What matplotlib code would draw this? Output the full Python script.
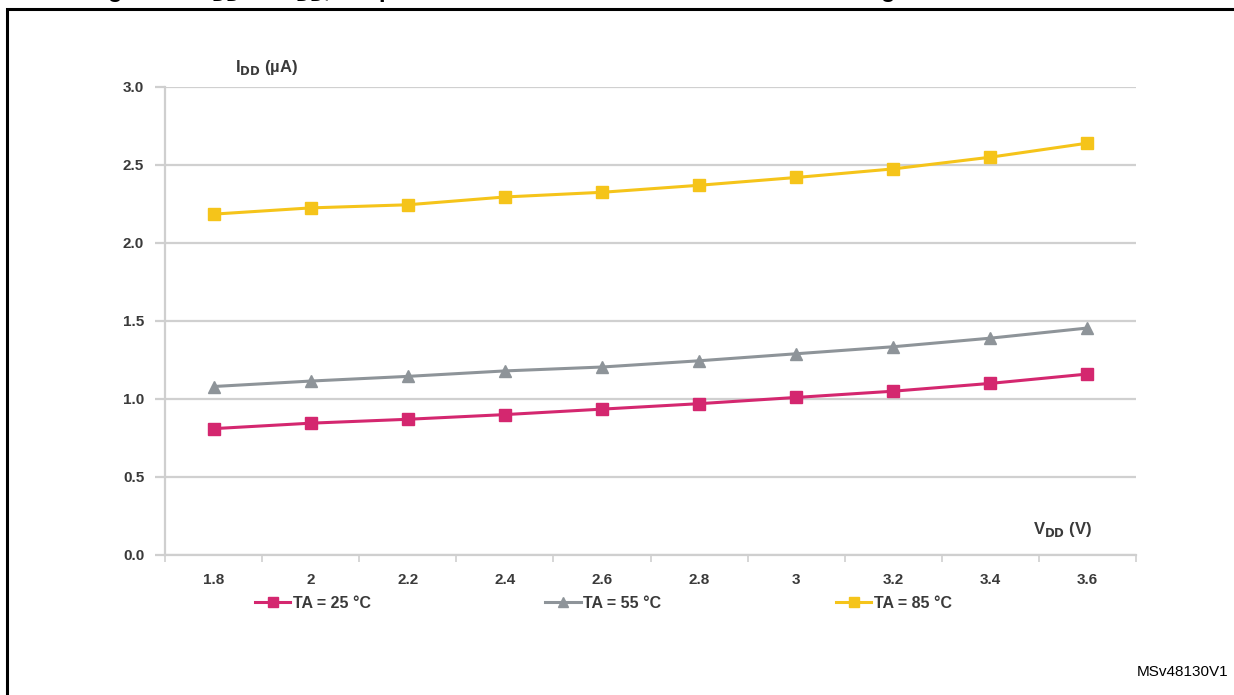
import matplotlib
matplotlib.use("Agg")
import matplotlib.pyplot as plt
from matplotlib.patches import Rectangle

categories = ["1.8", "2", "2.2", "2.4", "2.6", "2.8", "3", "3.2", "3.4", "3.6"]
ta25 = [0.81, 0.845, 0.87, 0.90, 0.935, 0.97, 1.01, 1.05, 1.10, 1.16]
ta55 = [1.08, 1.115, 1.145, 1.18, 1.205, 1.245, 1.29, 1.335, 1.39, 1.455]
ta85 = [2.185, 2.225, 2.245, 2.295, 2.325, 2.37, 2.42, 2.475, 2.55, 2.64]
series_labels = ["TA = 25 °C", "TA = 55 °C", "TA = 85 °C"]
yticks = [0.0, 0.5, 1.0, 1.5, 2.0, 2.5, 3.0]

plt.rcParams['font.family'] = ['Liberation Sans', 'DejaVu Sans']

W, H = 1234, 695
fig = plt.figure(figsize=(W / 100, H / 100), dpi=100)
fig.patch.set_facecolor('white')

# outer frame
fig.add_artist(Rectangle((7 / W, -0.05), 1.2, 1 - 9 / H + 0.05,
                         transform=fig.transFigure, fill=False,
                         edgecolor='black', linewidth=2.2, clip_on=False))

# title, mostly cut off at the very top of the picture
title_prefix = "Figure 26. I"
title_text = ("Figure 26. I$_{\\mathbf{DD}}$ vs V$_{\\mathbf{DD}}$, "
              "temperature in Shutdown mode with RTC running")
renderer = fig.canvas.get_renderer()
tmp = fig.text(0, 0, title_prefix, fontsize=17, fontweight='bold')
prefix_w = tmp.get_window_extent(renderer).width
tmp.remove()
fig.text((212 - prefix_w) / W, 1 - 4 / H, title_text,
         fontsize=17, fontweight='bold', va='bottom', ha='left')

ax = fig.add_axes([165 / W, 1 - 555 / H, (1136 - 165) / W, (555 - 87) / H])
x = list(range(len(categories)))

c25, c55, c85 = '#D4276F', '#8E9499', '#F5C41A'
ax.plot(x, ta25, color=c25, lw=2.2, marker='s', ms=9, label=series_labels[0], zorder=3)
ax.plot(x, ta55, color=c55, lw=2.2, marker='^', ms=9, label=series_labels[1], zorder=3)
ax.plot(x, ta85, color=c85, lw=2.2, marker='s', ms=9, label=series_labels[2], zorder=3)

ax.set_xlim(-0.5, len(categories) - 0.5)
ax.set_ylim(0, 3.0)
ax.set_yticks(yticks)
ax.set_yticklabels([f"{v:.1f}" for v in yticks])
ax.set_xticks(x)
ax.set_xticklabels(categories)
ax.set_xticks([i + 0.5 for i in range(-1, len(categories))], minor=True)

ax.grid(axis='y', color='#D0D0D0', lw=1.6)
ax.set_axisbelow(True)
for s in ['top', 'right']:
    ax.spines[s].set_visible(False)
for s in ['left', 'bottom']:
    ax.spines[s].set_color('#CFCFCF')
    ax.spines[s].set_linewidth(1.6)

ax.tick_params(axis='y', length=7, color='#CFCFCF', width=1.6, pad=8,
               labelsize=11, labelcolor='#3A3A3A')
ax.tick_params(axis='x', which='major', length=0, pad=13,
               labelsize=11, labelcolor='#3A3A3A')
ax.tick_params(axis='x', which='minor', length=5, color='#CFCFCF', width=1.2)
for lab in ax.get_xticklabels() + ax.get_yticklabels():
    lab.set_fontweight('bold')

fig.text(235 / W, 1 - 72 / H, "I$_{\\mathbf{DD}}$ (µA)", fontsize=12,
         fontweight='bold', color='#3A3A3A', va='baseline', ha='left')
fig.text(1033 / W, 1 - 534 / H, "V$_{\\mathbf{DD}}$ (V)", fontsize=12,
         fontweight='bold', color='#3A3A3A', va='baseline', ha='left')

leg = ax.legend(loc='upper left', bbox_to_anchor=(255 / W, 1 - 596 / H),
                bbox_transform=fig.transFigure, ncol=3, frameon=False,
                handlelength=2.2, handletextpad=0.15, columnspacing=10.95,
                borderaxespad=0, borderpad=0, prop={'size': 11.5, 'weight': 'bold'},
                markerscale=0.8)
for t in leg.get_texts():
    t.set_color('#3A3A3A')

fig.text(1228 / W, 1 - 676 / H, "MSv48130V1", fontsize=11, ha='right',
         va='baseline', color='black')

fig.savefig("out.png", dpi=100)
